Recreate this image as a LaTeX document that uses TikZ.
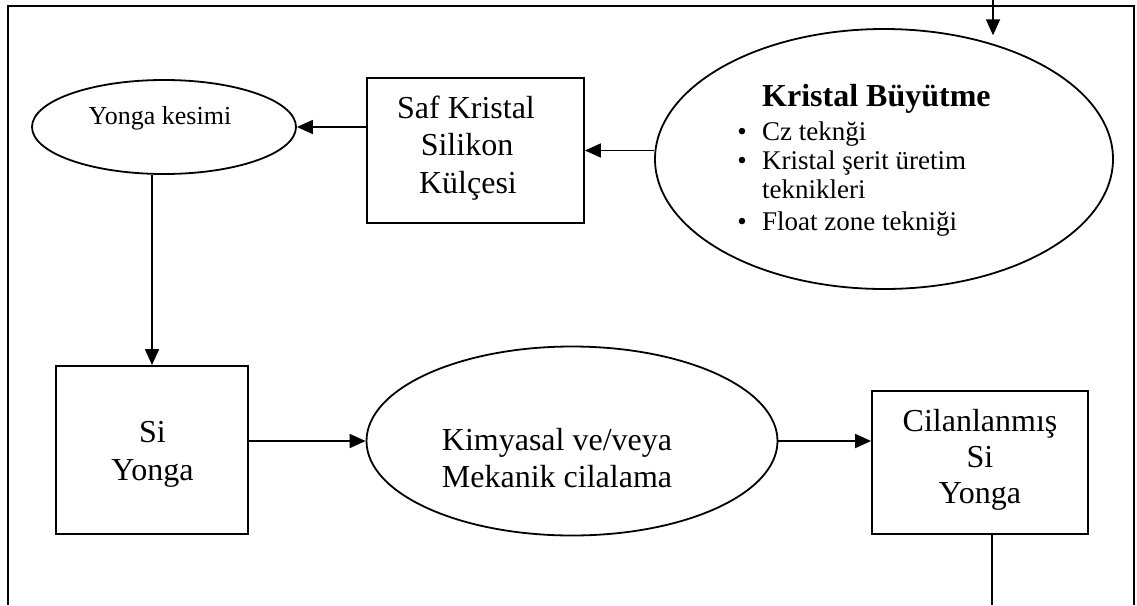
\documentclass[tikz,border=0pt]{standalone}
\usepackage{fontspec}
\setmainfont{Liberation Serif}
\usetikzlibrary{shapes.geometric,arrows.meta}
\begin{document}
\begin{tikzpicture}[x=1pt,y=-1pt,
  shapeline/.style={draw, line width=1.8pt},
  boxnode/.style={shapeline, rectangle, inner sep=0pt},
  ovalnode/.style={shapeline, ellipse, inner sep=0pt},
  flow/.style={line width=1.8pt, -{Triangle[length=16pt,width=14pt]}},
  plainline/.style={line width=1.8pt},
  bigtext/.style={font=\fontsize{32}{37}\selectfont, anchor=base, inner sep=0pt},
  midtext/.style={font=\fontsize{27}{30}\selectfont, anchor=base west, inner sep=0pt},
  bullettext/.style={font=\fontsize{27}{30}\selectfont, anchor=base, inner sep=0pt},
]
\useasboundingbox (0,0) rectangle (1137,605);

% outer frame (open at the bottom)
\coordinate (fbl) at (8,605);
\coordinate (ftl) at (8,6);
\coordinate (ftr) at (1134,6);
\coordinate (fbr) at (1134,605);
\draw[line width=2.2pt] (fbl) -- (ftl) -- (ftr) -- (fbr);

% shapes
\node[ovalnode, minimum width=458pt, minimum height=260pt] (grow) at (884,159) {};
\node[boxnode, minimum width=217pt, minimum height=145pt] (saf) at (475.5,150.5) {};
\node[ovalnode, minimum width=264pt, minimum height=94pt] (kesim) at (164,127) {};
\node[boxnode, minimum width=192pt, minimum height=168pt] (siy) at (152,450) {};
\node[ovalnode, minimum width=411pt, minimum height=189pt] (kimya) at (572,441) {};
\node[boxnode, minimum width=216pt, minimum height=143pt] (cila) at (980,462.5) {};

% texts
\node[anchor=base west, inner sep=0pt, font=\fontsize{32}{37}\selectfont\bfseries] (title) at (762,106) {Kristal Büyütme};
\node[bullettext] (bu1) at (742,140) {•};
\node[midtext] (it1) at (762,140) {Cz teknği};
\node[bullettext] (bu2) at (742,169) {•};
\node[midtext] (it2) at (762,169) {Kristal şerit üretim};
\node[midtext] (it2b) at (762,198) {teknikleri};
\node[bullettext] (bu3) at (742,230) {•};
\node[midtext] (it3) at (762,230) {Float zone tekniği};

\node[bigtext] (saf1) at (466,118) {Saf Kristal};
\node[bigtext] (saf2) at (467,155) {Silikon};
\node[bigtext] (saf3) at (468,193) {Külçesi};

\node[anchor=base, inner sep=0pt, font=\fontsize{26}{30}\selectfont] (kes1) at (160,124) {Yonga kesimi};

\node[bigtext] (si1) at (152.5,442) {Si};
\node[bigtext] (si2) at (152.5,480) {Yonga};

\node[bigtext] (ki1) at (557,450) {Kimyasal ve/veya};
\node[bigtext] (ki2) at (557,487) {Mekanik cilalama};

\node[bigtext] (ci1) at (980,431) {Cilanlanmış};
\node[bigtext] (ci2) at (980,467) {Si};
\node[bigtext] (ci3) at (980,503) {Yonga};

% connectors
\coordinate (inlet) at (993,0);
\coordinate (outlet) at (992,605);
\draw[flow, shorten >=9pt] (inlet) -- (inlet |- grow.46.3);
\draw[flow] (grow.west |- saf.east) -- (saf.east);
\draw[flow] (saf.west |- kesim.east) -- (kesim.east);
\draw[flow] (kesim.south -| siy.north) -- (siy.north);
\draw[flow] (siy.east |- kimya.west) -- (kimya.west);
\draw[flow] (kimya.east) -- (kimya.east -| cila.west);
\draw[plainline] (cila.south -| outlet) -- (outlet);
\end{tikzpicture}
\end{document}
